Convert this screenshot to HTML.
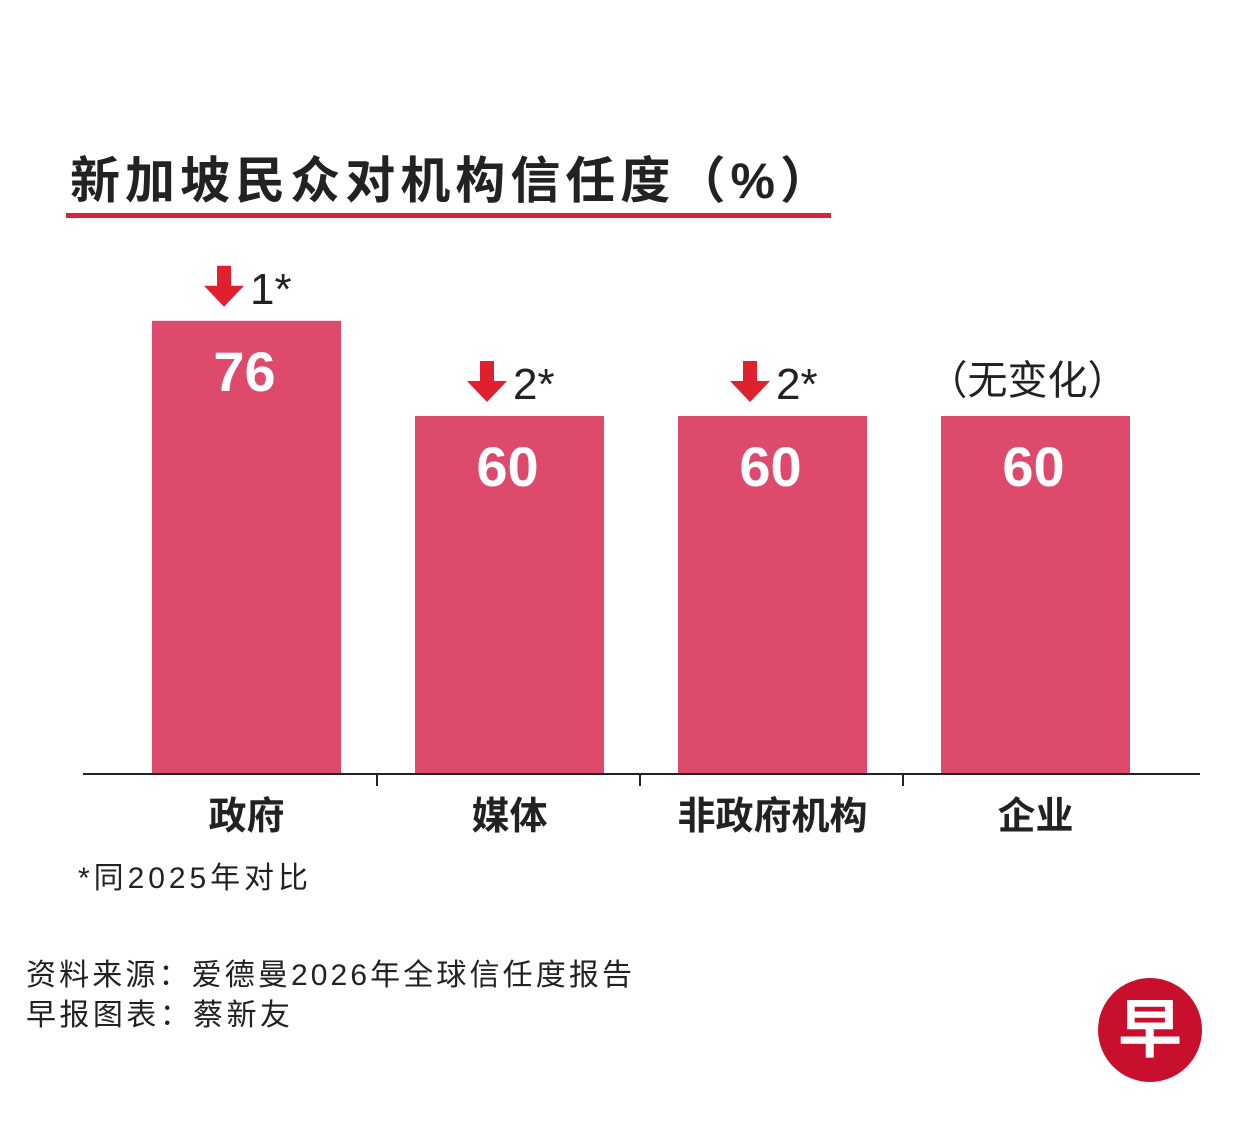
<!DOCTYPE html>
<html><head><meta charset="utf-8">
<style>
body{margin:0;background:#fff;}
svg{display:block;font-family:"Liberation Sans","Noto Sans CJK SC",sans-serif;}
</style></head>
<body>
<svg id="chart" width="1251" height="1128" viewBox="0 0 1251 1128">
<text x="70" y="198" font-size="50" font-weight="bold" fill="#222" textLength="760" lengthAdjust="spacing">新加坡民众对机构信任度（%）</text>
<rect x="66" y="213" width="765" height="5" fill="#d8243a"/>
<g id="bars"></g>
<line x1="83" y1="774" x2="1200" y2="774" stroke="#222" stroke-width="2"/>
<text x="78" y="888" font-size="30" fill="#222" textLength="230" lengthAdjust="spacing">*同2025年对比</text>
<text x="26" y="985" font-size="30" fill="#222" textLength="606" lengthAdjust="spacing">资料来源：爱德曼2026年全球信任度报告</text>
<text x="26" y="1025" font-size="30" fill="#222" textLength="264" lengthAdjust="spacing">早报图表：蔡新友</text>
<g>
<circle cx="1150" cy="1030" r="52" fill="#c8102e"/>
<text x="1150" y="1052" font-size="64" font-weight="bold" fill="#fff" text-anchor="middle">早</text>
</g>
</svg>
<script>
const categories=["政府","媒体","非政府机构","企业"];
const values=[76,60,60,60];
const changes=["1*","2*","2*","（无变化）"];
const down=[true,true,true,false];
const NS="http://www.w3.org/2000/svg";
const g=document.getElementById("bars");
const y0=773,scale=5.95,bandStart=83,bandW=263,barW=189,barOff=69;
function yPos(v){return y0-v*scale;}
function xPos(i){return bandStart+i*bandW+barOff;}
function mk(t,a){const e=document.createElementNS(NS,t);for(const k in a)e.setAttribute(k,a[k]);g.appendChild(e);return e;}
categories.forEach((c,i)=>{
  const x=xPos(i),y=yPos(values[i]),cx=x+barW/2;
  const r=mk("rect",{x:x,y:y,width:barW,height:y0-y,fill:"#de4a6b"});
  
  
  const v=mk("text",{x:cx-2,y:y+70,"font-size":56,"font-weight":"bold",fill:"#fff","text-anchor":"middle"});
  v.textContent=values[i];
  
  
  const l=mk("text",{x:cx,y:829,"font-size":38,"font-weight":"bold",fill:"#222","text-anchor":"middle"});
  l.textContent=c;
  
  
  if(i>0){const t=mk("line",{x1:bandStart+i*bandW+31,y1:774,x2:bandStart+i*bandW+31,y2:786,stroke:"#222","stroke-width":2});
    
    }
  if(down[i]){
    const ax=x+72,ay=y-55;
    const a=mk("path",{d:`M${ax-7} ${ay} h14 v20 h13 l-20 21 l-20 -21 h13 z`,fill:"#e0202e"});
    
    
    const ct=mk("text",{x:ax+26,y:ay+38,"font-size":44,fill:"#222"});
    ct.textContent=changes[i];
    
    
  } else {
    const ct=mk("text",{x:cx-8,y:y-22,"font-size":40,fill:"#222","text-anchor":"middle"});
    ct.textContent=changes[i];
    
    
  }
});
</script>
</body></html>
